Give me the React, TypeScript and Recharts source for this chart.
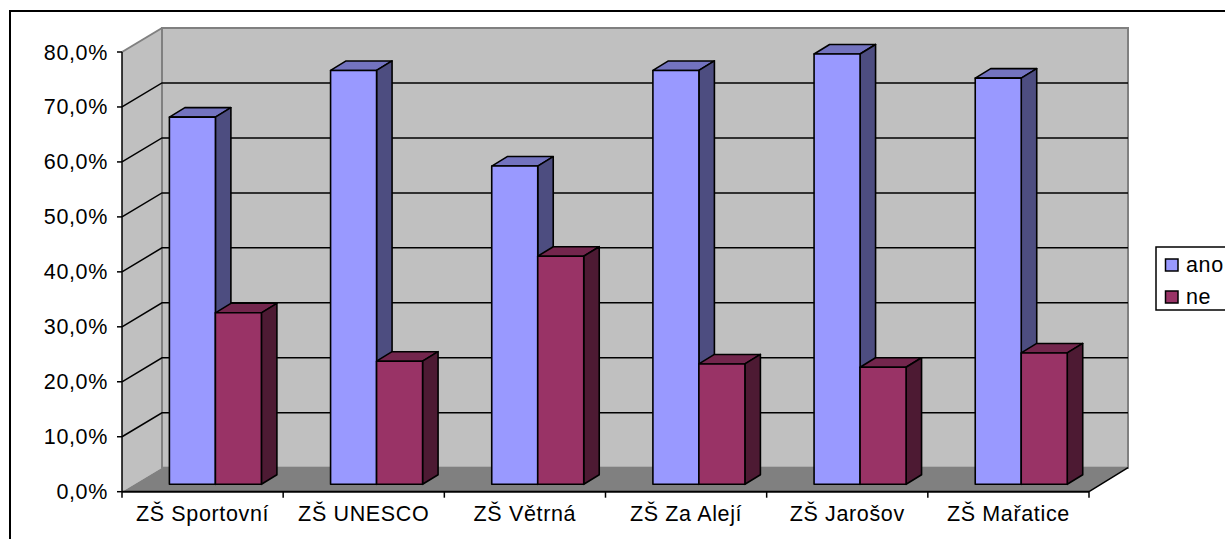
import React from "react";
import { BarChart, Bar, XAxis, YAxis, CartesianGrid } from "recharts";

const categories = ["ZŠ Sportovní", "ZŠ UNESCO", "ZŠ Větrná", "ZŠ Za Alejí", "ZŠ Jarošov", "ZŠ Mařatice"];
const ano = [66.8, 75.3, 57.9, 75.3, 78.3, 73.9];
const ne = [31.2, 22.4, 41.5, 21.9, 21.3, 23.9];
const yTicks = [0, 10, 20, 30, 40, 50, 60, 70, 80];
const gridValues = [10, 20, 30, 40, 50, 60, 70];

const data = categories.map((name, i) => ({ name, ano: ano[i], ne: ne[i] }));

const W = 1225;
const H = 539;
const LEFT = 122;
const TOP = 52;
const RIGHT = 1089;
const BOTTOM = 491.7;
const DX = 40;
const DY = 24;
const BAND = (RIGHT - LEFT) / categories.length;
const FONT = "'Liberation Sans', Arial, sans-serif";
const FS = 21.5;
const LS = 0.65;

function Bar3D(props: any) {
  const { x, y, width, height, front, top, side } = props;
  const x0 = x + 12.4;
  const y0 = y - 7.4;
  const d = 15.5;
  const e = 9.5;
  const x1 = x0 + width;
  const y1 = y0 + height;
  const common = { stroke: "#000", strokeWidth: 1.6, strokeLinejoin: "round" as const };
  return (
    <g>
      <polygon points={`${x0},${y0} ${x1},${y0} ${x1 + d},${y0 - e} ${x0 + d},${y0 - e}`} fill={top} {...common} />
      <polygon points={`${x1},${y0} ${x1 + d},${y0 - e} ${x1 + d},${y1 - e} ${x1},${y1}`} fill={side} {...common} />
      <rect x={x0} y={y0} width={width} height={height} fill={front} {...common} />
    </g>
  );
}

function GridLine(props: any) {
  const { y1 } = props;
  return (
    <polyline
      points={`${LEFT},${y1} ${LEFT + DX},${y1 - DY} ${RIGHT + DX - 1},${y1 - DY}`}
      fill="none"
      stroke="#000"
      strokeWidth={1.5}
    />
  );
}

function CatTick(props: any) {
  const { x, payload, index } = props;
  return (
    <g>
      <line x1={x - BAND / 2} x2={x - BAND / 2} y1={BOTTOM} y2={BOTTOM + 6} stroke="#000" strokeWidth={1.5} />
      {index === categories.length - 1 && (
        <line x1={x + BAND / 2} x2={x + BAND / 2} y1={BOTTOM} y2={BOTTOM + 6} stroke="#000" strokeWidth={1.5} />
      )}
      <text x={x} y={521} textAnchor="middle" fontFamily={FONT} fontSize={FS} letterSpacing={LS} fill="#000">
        {payload.value}
      </text>
    </g>
  );
}

function ValTick(props: any) {
  const { x, y, payload } = props;
  return (
    <text x={x} y={y + 7.5} textAnchor="end" fontFamily={FONT} fontSize={FS} letterSpacing={LS} fill="#000">
      {`${payload.value},0%`}
    </text>
  );
}

function LegendBox() {
  const rows = [
    { label: "ano", color: "#9999FF", y: 259 },
    { label: "ne", color: "#993366", y: 291 },
  ];
  return (
    <svg width={W} height={H} style={{ position: "absolute", left: 0, top: 0 }}>
      <rect x={1156} y={247} width={100} height={63} fill="#fff" stroke="#000" strokeWidth={1.5} />
      {rows.map((r) => (
        <g key={r.label}>
          <rect x={1165.5} y={r.y} width={12.5} height={12} fill={r.color} stroke="#000" strokeWidth={1.5} />
          <text x={1186} y={r.y + 13} fontFamily={FONT} fontSize={FS} letterSpacing={LS} fill="#000">
            {r.label}
          </text>
        </g>
      ))}
    </svg>
  );
}

export default function App() {
  return (
    <div style={{ position: "absolute", left: 0, top: 0, width: W, height: H, overflow: "hidden", background: "#fff" }}>
      <svg width={W} height={H} style={{ position: "absolute", left: 0, top: 0 }}>
        <rect x={10} y={11} width={1400} height={800} fill="#fff" stroke="#000" strokeWidth={2} />
        <polygon
          points={`${LEFT},${TOP} ${LEFT + DX},${TOP - DY} ${LEFT + DX},${BOTTOM - DY} ${LEFT},${BOTTOM}`}
          fill="#C0C0C0"
        />
        <rect x={LEFT + DX} y={TOP - DY} width={RIGHT - LEFT - 1} height={BOTTOM - TOP} fill="#C0C0C0" stroke="#808080" strokeWidth={2} />
        <polyline points={`${LEFT},${TOP} ${LEFT + DX},${TOP - DY}`} stroke="#808080" strokeWidth={2} fill="none" />
        <polygon
          points={`${LEFT},${BOTTOM} ${LEFT + DX},${BOTTOM - DY} ${RIGHT + DX - 1},${BOTTOM - DY} ${RIGHT},${BOTTOM}`}
          fill="#808080"
        />
        <polyline points={`${RIGHT},${BOTTOM} ${RIGHT + DX - 1},${BOTTOM - DY}`} stroke="#000" strokeWidth={1.5} fill="none" />
      </svg>
      <div style={{ position: "absolute", left: 0, top: 0 }}>
        <BarChart
          width={W}
          height={H}
          data={data}
          barGap={0}
          barSize={46}
          margin={{ left: 0, top: TOP, right: W - RIGHT, bottom: 0 }}
        >
          <CartesianGrid vertical={false} horizontal={(p: any) => <GridLine key={p.key} {...p} />} horizontalValues={gridValues} />
          <XAxis
            dataKey="name"
            interval={0}
            height={H - BOTTOM}
            tick={<CatTick />}
            tickLine={false}
            axisLine={{ stroke: "#000", strokeWidth: 2 }}
          />
          <YAxis
            domain={[0, 80]}
            ticks={yTicks}
            width={LEFT}
            interval={0}
            tickSize={5}
            tickMargin={9}
            tickLine={{ stroke: "#000", strokeWidth: 1.5 }}
            axisLine={{ stroke: "#000", strokeWidth: 1.5 }}
            tick={<ValTick />}
          />
          <Bar dataKey="ano" isAnimationActive={false} shape={<Bar3D front="#9999FF" top="#7373BF" side="#4D4D80" />} />
          <Bar dataKey="ne" isAnimationActive={false} shape={<Bar3D front="#993366" top="#73264D" side="#4D1A33" />} />
        </BarChart>
      </div>
      <LegendBox />
    </div>
  );
}
